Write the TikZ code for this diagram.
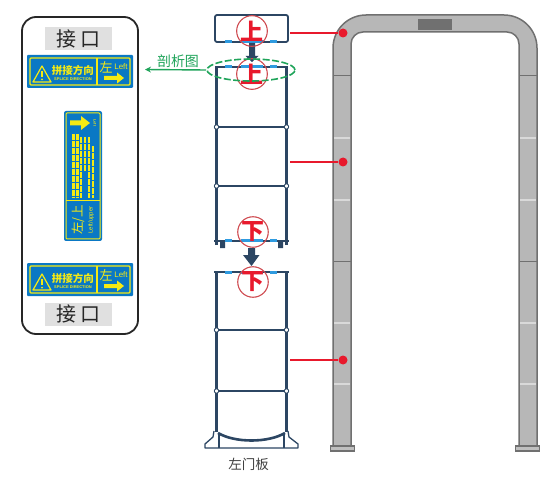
\documentclass[tikz,border=0pt]{standalone}
\usepackage{fontspec}
\setmainfont{Liberation Sans}
\newfontfamily\cjk{Noto Sans CJK SC}
\usetikzlibrary{arrows.meta,shapes.geometric}
\definecolor{navy}{HTML}{2C4663}
\definecolor{plate}{HTML}{0A78C4}
\definecolor{sign}{HTML}{F5EA14}
\definecolor{redl}{HTML}{E8192C}
\definecolor{ringc}{HTML}{CF4A50}
\definecolor{greenl}{HTML}{1FA45A}
\definecolor{gatef}{HTML}{B7B7B7}
\definecolor{gated}{HTML}{707070}
\definecolor{capb}{HTML}{2F9BE0}
\tikzset{
 x=1pt,y=-1pt,
 graybox/.style={fill=black!12,minimum width=67pt,minimum height=23pt,inner sep=0pt,font=\cjk\fontsize{20}{20}\selectfont,text=black!85},
 ring/.style={circle,draw=ringc,line width=1.1pt,minimum size=30pt,inner sep=0pt,font=\cjk\bfseries\fontsize{23}{23}\selectfont,text=redl},
 panelline/.style={draw=navy,line width=3.4pt},
 thinbar/.style={draw=navy,line width=2pt},
 clip1/.style={draw=capb,line width=3pt},
 redline/.style={draw=redl,line width=2.4pt},
 reddot/.style={circle,fill=redl,minimum size=9pt,inner sep=0pt},
 gateseam/.style={draw=black!15,line width=1.3pt},
 signtxt/.style={text=sign,inner sep=0pt},
 fillarrow/.style={fill=navy,draw=none}
}
\newcommand{\spliceplate}[3]{% name, x offset, y offset
\begin{scope}[shift={(#2,#3)}]
 \node[fill=plate,minimum width=106pt,minimum height=33pt,inner sep=0pt,rounded corners=1pt] (#1) at (53,16.5) {};
 \draw[sign,line width=1.2pt,rounded corners=1pt] (3,3) rectangle (103,30);
 \draw[sign,line width=1.2pt] (70,3) -- (70,30);
 \draw[sign,line width=1.2pt,line join=round] (6,27) -- (15,11) -- (24,27) -- cycle;
 \draw[sign,line width=1.4pt] (15,16) -- (15,22);
 \fill[sign] (15,24.5) circle (1);
 \node[signtxt,font=\cjk\bfseries\fontsize{10.5}{10}\selectfont] (#1t) at (46,15) {拼接方向};
 \node[signtxt,font=\bfseries\fontsize{4}{4}\selectfont] (#1s) at (46,24) {SPLICE DIRECTION};
 \node[signtxt,font=\cjk\fontsize{13}{13}\selectfont] (#1l) at (79,12) {左};
 \node[signtxt,font=\fontsize{8}{8}\selectfont] (#1e) at (94,12) {Left};
 \fill[sign] (77,21) -- (90,21) -- (90,17.5) -- (97,23) -- (90,28.5) -- (90,25) -- (77,25) -- cycle;
\end{scope}}
\begin{document}
\begin{tikzpicture}
\useasboundingbox (0,0) rectangle (550,487);
\fill[white] (0,0) rectangle (550,487);
% left card
\draw[black!85,line width=1.8pt,rounded corners=14pt] (22,17) rectangle (138,334);
\node[graybox] (portA) at (78.5,39) {接 口};
\node[graybox] (portB) at (78.5,314) {接 口};
\spliceplate{plA}{27}{55}
\spliceplate{plB}{27}{263}
% vertical plate
\node[fill=plate,minimum width=38pt,minimum height=130pt,inner sep=0pt,rounded corners=2pt] (plV) at (83,176) {};
\draw[sign,line width=1pt,rounded corners=1pt] (66,113) rectangle (100,239);
\draw[sign,line width=1pt] (66,201) -- (100,201);
\fill[sign] (70,120.5) -- (81,120.5) -- (81,116) -- (90,123) -- (81,130) -- (81,125.5) -- (70,125.5) -- cycle;
\node[signtxt,rotate=-90,font=\bfseries\fontsize{3.5}{4}\selectfont] (plVe) at (95,123) {Left};
\foreach \xx/\ya/\yb/\w in {73/134/198/3,77/134/198/3,81/137/198/2.4,85/137/172/2,89/137/198/2,93/146/198/1.4}
  \draw[sign,line width=\w pt,dash pattern=on 3pt off .5pt] (\xx,\ya) -- (\xx,\yb);
\node[signtxt,rotate=90,font=\cjk\fontsize{12.5}{13}\selectfont] (plVl) at (78,220) {左/上};
\node[signtxt,rotate=90,font=\fontsize{6}{6}\selectfont] (plVu) at (91,220) {Left/upper};
% top box
\draw[navy,line width=1.8pt,rounded corners=2pt] (215,42) -- (215,15) -- (288,15) -- (288,42) -- cycle;
% upper panel
\draw[panelline] (216.5,245) -- (216.5,67);
\draw[panelline] (286.5,245) -- (286.5,67);
\draw[thinbar] (215,67) -- (288,67);
\draw[thinbar] (216,127) -- (287,127);
\draw[thinbar] (216,186) -- (287,186);
\draw[thinbar] (214,241) -- (289,241);
\fill[navy] (220,241) rectangle (225,248) (278,241) rectangle (283,248);
\foreach \yy in {127,186}{\draw[navy,line width=.9pt,fill=white] (216.5,\yy) circle (2.2) (286.5,\yy) circle (2.2);}
% lower panel
\draw[panelline] (216.5,272) -- (216.5,432);
\draw[panelline] (286.5,272) -- (286.5,432);
\draw[thinbar] (214,272) -- (289,272);
\draw[thinbar] (216,330) -- (287,330);
\draw[thinbar] (216,391) -- (287,391);
\foreach \yy in {330,391}{\draw[navy,line width=.9pt,fill=white] (216.5,\yy) circle (2.2) (286.5,\yy) circle (2.2);}
% base
\draw[navy,line width=1.3pt,line join=round] (214,431) -- (213,437) -- (205,444) -- (205,448) -- (298,448) -- (298,444) -- (289,437) -- (288,431);
\draw[navy,line width=1.3pt] (219,433) -- (219,448) (284,433) -- (284,448);
\draw[navy,line width=2.6pt] (218,433) .. controls (235,443) and (268,443) .. (285,433);
% blue clips
\foreach \yy in {42,67,241,272}{
 \draw[clip1] (225,\yy) -- (232,\yy) (241,\yy) -- (263,\yy) (270,\yy) -- (277,\yy);}
% arrows
\fill[fillarrow] (249,43) -- (255,43) -- (255,56) -- (258.5,56) -- (252,62) -- (245.5,56) -- (249,56) -- cycle;
\fill[fillarrow] (248,248) -- (255,248) -- (255,255) -- (259.5,255) -- (251.5,266) -- (243,255) -- (248,255) -- cycle;
% rings
\node[ring] (upA) at (252,31) {上};
\node[ring] (upB) at (252,74) {上};
\node[ring] (dnA) at (253,232) {下};
\node[ring] (dnB) at (253,282) {下};
% gate
\fill[gatef] (333,446) [rounded corners=33pt] -- (333,15) -- (537,15) [sharp corners] -- (537,446) -- (519,446) [rounded corners=12pt] -- (519,32) -- (351,32) [sharp corners] -- (351,446) -- cycle;
\draw[gated,line width=1.5pt,line join=round] (333,446) [rounded corners=33pt] -- (333,15) -- (537,15) [sharp corners] -- (537,446) (519,446) [rounded corners=12pt] -- (519,32) -- (351,32) [sharp corners] -- (351,446);
\fill[gated] (418,19) rectangle (452,30);
\draw[gated,line width=1pt] (333,76) -- (351,76) (519,76) -- (537,76) (333,261) -- (351,261) (519,261) -- (537,261);
\foreach \yy in {138,200,323,384}{\draw[gateseam] (334,\yy) -- (350,\yy) (520,\yy) -- (536,\yy);}
\draw[gated,line width=1.5pt,fill=black!25] (330.5,446) rectangle (354.5,451);
\draw[gated,line width=1.5pt,fill=black!25] (515.5,446) rectangle (539.5,451);
% red leaders
\node[reddot] (dotA) at (343,33) {};
\node[reddot] (dotB) at (343,162) {};
\node[reddot] (dotC) at (343,360) {};
\coordinate (srcA) at (290,33);
\coordinate (srcB) at (290,162);
\coordinate (srcC) at (290,360);
\draw[redline] (srcA) -- (dotA);
\draw[redline] (srcB) -- (dotB);
\draw[redline] (srcC) -- (dotC);
% green callout
\node[ellipse,draw=greenl,line width=1.6pt,dash pattern=on 7pt off 2.5pt,minimum width=88pt,minimum height=22pt,inner sep=0pt] (oval) at (251,70) {};
\node[text=greenl,font=\cjk\fontsize{14}{14}\selectfont,inner sep=0pt] (lab) at (178,61) {剖析图};
\coordinate (tip) at (145,69.5);
\draw[greenl,line width=1.4pt,-{Stealth[length=6pt,width=6pt]}] (oval.west) -- (tip);
% caption
\node[text=black!75,font=\cjk\fontsize{13.5}{13.5}\selectfont,inner sep=0pt] (cap) at (248.5,464) {左门板};
\end{tikzpicture}
\end{document}
